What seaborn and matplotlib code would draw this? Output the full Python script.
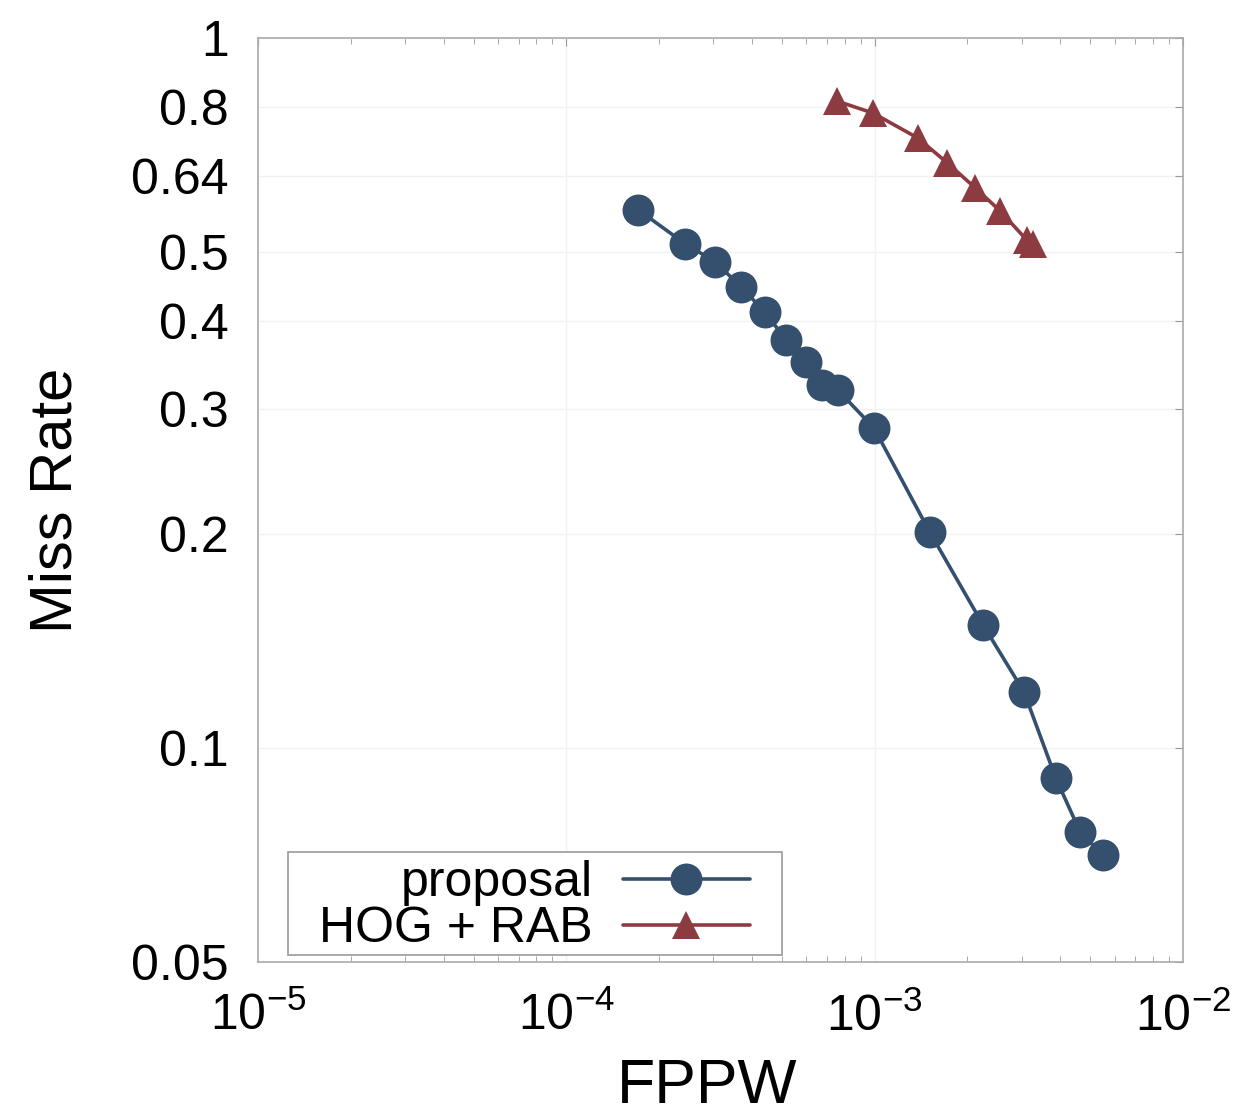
import numpy as np
import pandas as pd
import matplotlib
matplotlib.use("Agg")
import matplotlib.pyplot as plt
import matplotlib.patches as mpatches
import seaborn as sns
from matplotlib.ticker import FixedLocator, FixedFormatter, LogLocator, NullLocator, NullFormatter

# ---- data ----
proposal_fppw = [1.71e-4, 2.43e-4, 3.04e-4, 3.69e-4, 4.41e-4, 5.16e-4, 5.99e-4, 6.75e-4,
                 7.61e-4, 9.95e-4, 1.51e-3, 2.25e-3, 3.05e-3, 3.87e-3, 4.64e-3, 5.51e-3]
proposal_miss = [0.573, 0.513, 0.484, 0.446, 0.411, 0.3755, 0.350, 0.3245,
                 0.319, 0.2824, 0.2014, 0.149, 0.120, 0.0907, 0.0762, 0.0707]
hog_fppw = [7.55e-4, 9.88e-4, 1.38e-3, 1.72e-3, 2.12e-3, 2.55e-3, 3.12e-3, 3.26e-3]
hog_miss = [0.815, 0.784, 0.723, 0.667, 0.615, 0.571, 0.519, 0.513]

series_names = ["proposal", "HOG + RAB"]
x_ticks = [1e-5, 1e-4, 1e-3, 1e-2]
x_ticklabels = [r"$\mathregular{10^{-5}}$", r"$\mathregular{10^{-4}}$",
                r"$\mathregular{10^{-3}}$", r"$\mathregular{10^{-2}}$"]
y_ticks = [0.05, 0.1, 0.2, 0.3, 0.4, 0.5, 0.64, 0.8, 1.0]
y_ticklabels = ["0.05", "0.1", "0.2", "0.3", "0.4", "0.5", "0.64", "0.8", "1"]

df_prop = pd.DataFrame({"FPPW": proposal_fppw, "Miss Rate": proposal_miss})
df_hog = pd.DataFrame({"FPPW": hog_fppw, "Miss Rate": hog_miss})

sns.set_style("white")
plt.rcParams["font.family"] = ["Liberation Sans", "DejaVu Sans"]
plt.rcParams["mathtext.fontset"] = "custom"
plt.rcParams["mathtext.rm"] = "Liberation Sans"
plt.rcParams["mathtext.it"] = "Liberation Sans"
plt.rcParams["text.color"] = "black"
plt.rcParams["axes.labelcolor"] = "black"
plt.rcParams["xtick.color"] = "black"
plt.rcParams["ytick.color"] = "black"

fig = plt.figure(figsize=(12.35, 11.14), dpi=100)
ax = fig.add_axes([258/1235, 1-962/1114, (1183-258)/1235, (962-38)/1114])

blue = "#34506e"
red = "#8c3b40"

sns.lineplot(data=df_prop, x="FPPW", y="Miss Rate", ax=ax, color=blue, lw=2.6,
             marker="o", markersize=23, markeredgewidth=0, sort=False,
             estimator=None, label=series_names[0])
sns.lineplot(data=df_hog, x="FPPW", y="Miss Rate", ax=ax, color=red, lw=2.6,
             marker="^", markersize=20, markeredgewidth=0, sort=False,
             estimator=None, label=series_names[1])

ax.set_xscale("log")
ax.set_yscale("log")
ax.set_xlim(1e-5, 1e-2)
ax.set_ylim(0.05, 1.0)

ax.xaxis.set_major_locator(FixedLocator(x_ticks))
ax.xaxis.set_major_formatter(FixedFormatter(x_ticklabels))
ax.xaxis.set_minor_locator(LogLocator(base=10, subs=np.arange(2, 10)))
ax.xaxis.set_minor_formatter(NullFormatter())
ax.yaxis.set_major_locator(FixedLocator(y_ticks))
ax.yaxis.set_major_formatter(FixedFormatter(y_ticklabels))
ax.yaxis.set_minor_locator(NullLocator())

ax.tick_params(axis="both", which="major", direction="in", length=6, width=0.8,
               color="#999999", labelcolor="black", labelsize=36, top=True, right=True)
ax.tick_params(axis="y", which="major", pad=21)
ax.tick_params(axis="x", which="major", pad=22)
ax.tick_params(axis="x", which="minor", direction="in", length=4, width=0.6,
               color="#999999", top=True, bottom=True)

ax.grid(True, which="major", color="#f2f2f2", lw=1.0)
for s in ax.spines.values():
    s.set_visible(True)
    s.set_color("#aaaaaa")
    s.set_linewidth(1.2)

ax.set_xlabel("FPPW", fontsize=45)
ax.set_ylabel("Miss Rate", fontsize=43)
ax.xaxis.set_label_coords((707-258)/925, -(1057-962)/924)
ax.yaxis.set_label_coords(-(258-83)/925, 0.5)

# legend frame (gnuplot-style box, wider than the content)
frame = mpatches.Rectangle(((288-258)/925, (962-955)/924), (782-288)/925, (955-852)/924,
                           transform=ax.transAxes, facecolor="white", edgecolor="#999999",
                           linewidth=1.2, zorder=5)
ax.add_patch(frame)
leg = ax.legend(loc="lower right", bbox_to_anchor=((750-258)/925, (962-952)/924),
                markerfirst=False, fontsize=36, frameon=False, handlelength=2.55,
                borderpad=0.0, labelspacing=0.0, handletextpad=0.6, borderaxespad=0)
leg.set_zorder(6)

fig.savefig("out.png", dpi=100)
